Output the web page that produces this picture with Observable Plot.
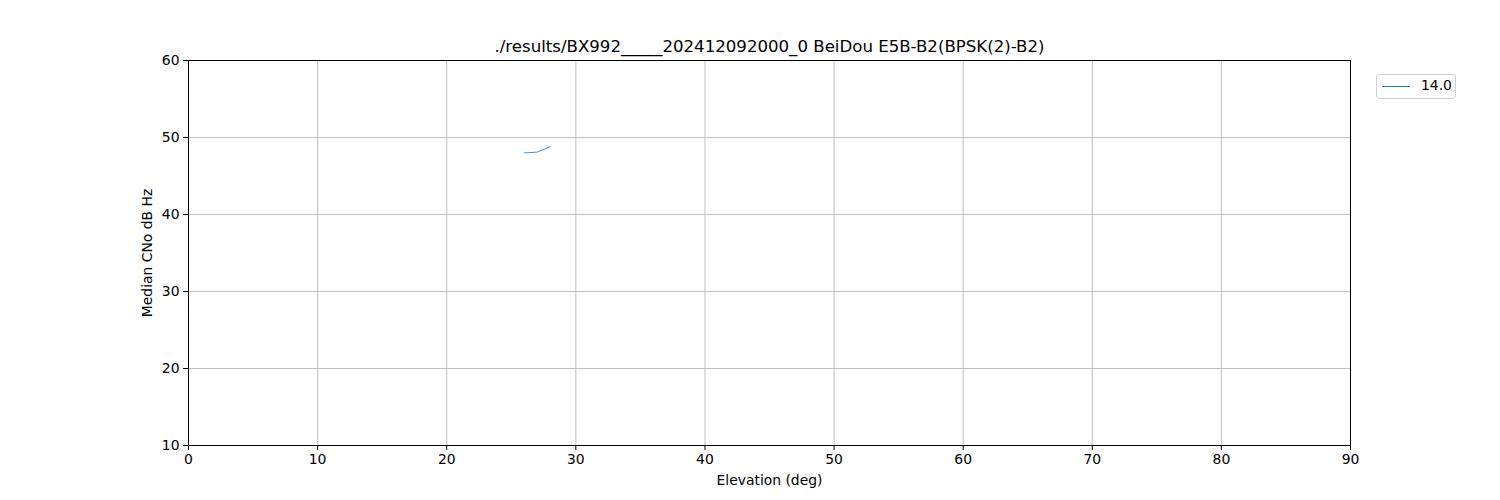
<!DOCTYPE html>
<html>
<head>
<meta charset="utf-8">
<script src="https://cdn.jsdelivr.net/npm/d3@7"></script>
<script src="https://cdn.jsdelivr.net/npm/@observablehq/plot@0.6"></script>
<style>
  html, body { margin: 0; padding: 0; background: #fff; }
  #wrap { position: relative; width: 1500px; height: 500px; font-family: "DejaVu Sans", sans-serif; }
  #legend { position: absolute; left: 1376px; top: 74px; width: 80px; height: 25px; border: 1px solid #d0d0d0; border-radius: 3px; background: #fff; box-sizing: border-box; }
  #legend .sw { position: absolute; left: 5px; top: 11px; width: 28px; height: 0; border-top: 0.8px solid #1f77b4; }
  #legend .lb { position: absolute; left: 44px; top: 2px; font-size: 13.9px; color: #000; }
</style>
</head>
<body>
<div id="wrap"></div>
<script>
const title = "./results/BX992_____202412092000_0 BeiDou E5B-B2(BPSK(2)-B2)";
const series = ["14.0"];
const elevation = [26, 27, 28];
const medianCNo = [48.0, 48.1, 48.8];
const xTicks = [0, 10, 20, 30, 40, 50, 60, 70, 80, 90];
const yTicks = [10, 20, 30, 40, 50, 60];

const data = elevation.map((e, i) => ({elev: e, cno: medianCNo[i], sv: series[0]}));

const chart = Plot.plot({
  width: 1500,
  height: 500,
  marginLeft: 188,
  marginRight: 150,
  marginTop: 60,
  marginBottom: 55,
  style: {fontFamily: "DejaVu Sans, sans-serif", fontSize: "13.9px", background: "#fff", color: "#000"},
  x: {domain: [0, 90]},
  y: {domain: [10, 60]},
  marks: [
    Plot.gridX(xTicks, {stroke: "#b0b0b0", strokeOpacity: 1, strokeWidth: 0.8}),
    Plot.gridY(yTicks, {stroke: "#b0b0b0", strokeOpacity: 1, strokeWidth: 0.8}),
    Plot.line(data, {x: "elev", y: "cno", stroke: "#1f77b4", strokeWidth: 0.8}),
    Plot.frame({stroke: "#000", strokeWidth: 1}),
    Plot.axisX(xTicks, {tickSize: 5, tickPadding: 4, label: null, fontSize: 13.9}),
    Plot.axisY(yTicks, {tickSize: 5, tickPadding: 4, label: null, fontSize: 13.9}),
    Plot.text([title], {frameAnchor: "top", dy: -14, fontSize: 16.6, lineAnchor: "middle", text: d => d}),
    Plot.text(["Elevation (deg)"], {frameAnchor: "bottom", dy: 35, fontSize: 13.9, lineAnchor: "middle", text: d => d}),
    Plot.text(["Median CNo dB Hz"], {frameAnchor: "left", dx: -41, rotate: -90, textAnchor: "middle", fontSize: 13.9, lineAnchor: "middle", text: d => d})
  ]
});

const wrap = document.getElementById("wrap");
wrap.appendChild(chart);
const leg = document.createElement("div");
leg.id = "legend";
leg.innerHTML = `<div class="sw"></div><div class="lb">${series[0]}</div>`;
wrap.appendChild(leg);
</script>
</body>
</html>
